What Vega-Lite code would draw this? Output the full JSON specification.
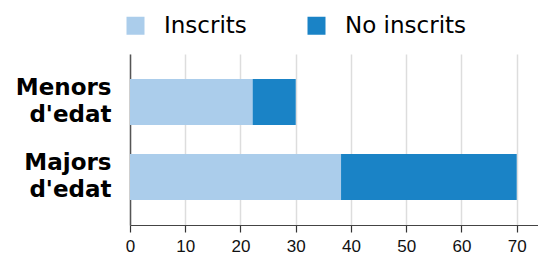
{
  "$schema": "https://vega.github.io/schema/vega-lite/v6.json",
  "autosize": {"type": "none"},
  "width": 408,
  "height": 171,
  "padding": {"left": 130, "top": 54, "right": 0, "bottom": 30},
  "background": "white",
  "data": {
    "values": [
      {"grup": "Menors d'edat", "estat": "Inscrits", "ordre": 1, "valor": 22.2},
      {"grup": "Menors d'edat", "estat": "No inscrits", "ordre": 2, "valor": 7.8},
      {"grup": "Majors d'edat", "estat": "Inscrits", "ordre": 1, "valor": 38.2},
      {"grup": "Majors d'edat", "estat": "No inscrits", "ordre": 2, "valor": 31.8}
    ]
  },
  "mark": {"type": "bar"},
  "encoding": {
    "y": {
      "field": "grup",
      "type": "nominal",
      "sort": ["Menors d'edat", "Majors d'edat"],
      "scale": {"paddingInner": 0.387, "paddingOuter": 0.333},
      "axis": {
        "title": null,
        "labelExpr": "split(datum.label, ' ')",
        "labelFont": "DejaVu Sans",
        "labelFontWeight": "bold",
        "labelFontSize": 23,
        "labelLineHeight": 27,
        "labelColor": "black",
        "labelPadding": 19,
        "labelOffset": -14,
        "ticks": false,
        "grid": false,
        "domain": true,
        "domainColor": "#555",
        "domainWidth": 1.5
      }
    },
    "x": {
      "field": "valor",
      "type": "quantitative",
      "stack": "zero",
      "scale": {"domain": [0, 73.85], "nice": false},
      "axis": {
        "title": null,
        "values": [0, 10, 20, 30, 40, 50, 60, 70],
        "labelFlush": false,
        "labelFont": "Liberation Sans",
        "labelFontSize": 17,
        "labelColor": "#111",
        "labelPadding": 6,
        "tickSize": 7,
        "tickColor": "#333",
        "tickWidth": 1.2,
        "domainColor": "#444",
        "domainWidth": 1.2,
        "grid": true,
        "gridColor": "#dddddd",
        "gridWidth": 1.5
      }
    },
    "color": {
      "field": "estat",
      "type": "nominal",
      "scale": {"domain": ["Inscrits", "No inscrits"], "range": ["#abcdeb", "#1a83c6"]},
      "legend": {
        "title": null,
        "orient": "none",
        "direction": "horizontal",
        "legendX": -6,
        "legendY": -40,
        "symbolType": "square",
        "symbolSize": 324,
        "symbolStrokeWidth": 0,
        "labelFont": "DejaVu Sans",
        "labelFontSize": 23,
        "labelColor": "black",
        "labelOffset": 17,
        "columnPadding": 58
      }
    },
    "order": {"field": "ordre", "type": "quantitative"}
  },
  "config": {"view": {"stroke": null}}
}
